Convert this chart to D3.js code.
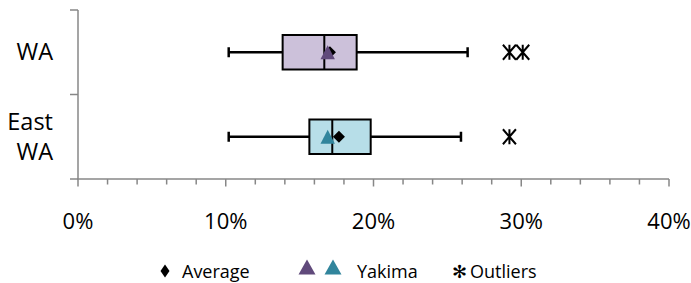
<!DOCTYPE html>
<html>
<head>
<meta charset="utf-8">
<script src="https://cdn.jsdelivr.net/npm/d3@7/dist/d3.min.js"></script>
<style>
  body { margin: 0; background: #fff; }
  svg { display: block; }
  text { font-family: "Open Sans", "Liberation Sans", sans-serif; fill: #000; }
</style>
</head>
<body>
<div class="chart"></div>
<script>
// data (percent)
var categories = ["WA", "East WA"];
var whiskerLow = [10.2, 10.2];
var q1 = [13.85, 15.66];
var median = [16.67, 17.21];
var q3 = [18.86, 19.81];
var whiskerHigh = [26.37, 25.92];
var average = [17.05, 17.66];
var yakima = [16.9, 16.9];
var outliers = [[29.2, 30.1], [29.2]];
var xTicks = [0, 10, 20, 30, 40];
var boxFill = ["#ccc1da", "#b7dee8"];
var yakimaColor = ["#604a7b", "#31859c"];

var width = 691, height = 283;

var svg = d3.select(".chart").append("svg").attr("width", width).attr("height", height);

var x = d3.scaleLinear().domain([0, 40]).range([78, 669]);
var y = d3.scaleBand().domain(categories).range([10, 179]);

// axes
var axisColor = "#878787";

// minor/major ticks on x
var allTicks = d3.range(0, 40.01, 2);
svg.append("g").selectAll("line").data(allTicks).enter().append("line")
    .attr("x1", function (d) { return x(d); })
    .attr("x2", function (d) { return x(d); })
    .attr("y1", 179)
    .attr("y2", function (d) { return d % 10 == 0 ? 186.5 : 184.5; })
    .attr("stroke", axisColor).attr("stroke-width", 1.5);

svg.append("g").selectAll("text").data(xTicks).enter().append("text")
    .attr("x", function (d) { return x(d); })
    .attr("y", 229)
    .attr("text-anchor", "middle")
    .attr("font-size", "22px")
    .text(function (d) { return d + "%"; });

// y ticks at band edges
var yEdges = categories.map(function (c) { return y(c); }).concat([y.range()[1]]);
svg.append("g").selectAll("line").data(yEdges).enter().append("line")
    .attr("x1", 70).attr("x2", 78)
    .attr("y1", function (d) { return d; })
    .attr("y2", function (d) { return d; })
    .attr("stroke", axisColor).attr("stroke-width", 1.5);

svg.append("line").attr("x1", 78).attr("x2", 78).attr("y1", 10).attr("y2", 179)
    .attr("stroke", axisColor).attr("stroke-width", 1.5);
svg.append("line").attr("x1", 77.25).attr("x2", x(40)).attr("y1", 179).attr("y2", 179)
    .attr("stroke", axisColor).attr("stroke-width", 1.5);

// category labels, wrapped on spaces
categories.forEach(function (c) {
    var words = c.split(" ");
    var cy = y(c) + y.bandwidth() / 2;
    var lineH = 30;
    var t = svg.append("text").attr("text-anchor", "end").attr("font-size", "23.5px");
    words.forEach(function (w, i) {
        t.append("tspan").attr("x", 53)
            .attr("y", cy + 8 + (i - (words.length - 1) / 2) * lineH)
            .text(w);
    });
});

// boxes
var boxH = 34.5, capH = 10;
categories.forEach(function (c, i) {
    var cy = y(c) + y.bandwidth() / 2;
    var g = svg.append("g");
    // whiskers
    g.append("line").attr("x1", x(whiskerLow[i])).attr("x2", x(q1[i])).attr("y1", cy).attr("y2", cy)
        .attr("stroke", "#000").attr("stroke-width", 2.3);
    g.append("line").attr("x1", x(q3[i])).attr("x2", x(whiskerHigh[i])).attr("y1", cy).attr("y2", cy)
        .attr("stroke", "#000").attr("stroke-width", 2.3);
    [whiskerLow[i], whiskerHigh[i]].forEach(function (v) {
        g.append("line").attr("x1", x(v)).attr("x2", x(v)).attr("y1", cy - capH / 2).attr("y2", cy + capH / 2)
            .attr("stroke", "#000").attr("stroke-width", 2.5);
    });
    // box
    g.append("rect").attr("x", x(q1[i])).attr("y", cy - boxH / 2)
        .attr("width", x(q3[i]) - x(q1[i])).attr("height", boxH)
        .attr("fill", boxFill[i]).attr("stroke", "#000").attr("stroke-width", 2);
    g.append("line").attr("x1", x(median[i])).attr("x2", x(median[i]))
        .attr("y1", cy - boxH / 2).attr("y2", cy + boxH / 2)
        .attr("stroke", "#000").attr("stroke-width", 2);
    // average diamond
    g.append("path")
        .attr("d", diamondPath(x(average[i]), cy, 6, 6))
        .attr("fill", "#000");
    // yakima triangle
    g.append("path")
        .attr("d", trianglePath(x(yakima[i]), cy, 7.2, 7))
        .attr("fill", yakimaColor[i]);
    // outliers
    outliers[i].forEach(function (v) {
        g.append("path").attr("d", starPath(x(v), cy, 6.5, 7.5))
            .attr("stroke", "#000").attr("stroke-width", 2).attr("fill", "none");
    });
});

function diamondPath(cx, cy, rx, ry) {
    return "M" + cx + "," + (cy - ry) + "L" + (cx + rx) + "," + cy + "L" + cx + "," + (cy + ry) + "L" + (cx - rx) + "," + cy + "Z";
}
function trianglePath(cx, cy, rx, ry) {
    return "M" + cx + "," + (cy - ry) + "L" + (cx + rx) + "," + (cy + ry) + "L" + (cx - rx) + "," + (cy + ry) + "Z";
}
function starPath(cx, cy, rx, ry) {
    return "M" + (cx - rx) + "," + (cy - ry) + "L" + (cx + rx) + "," + (cy + ry) +
        "M" + (cx + rx) + "," + (cy - ry) + "L" + (cx - rx) + "," + (cy + ry) +
        "M" + cx + "," + (cy - ry) + "L" + cx + "," + (cy + ry);
}

// legend
var legend = svg.append("g");
legend.append("path").attr("d", diamondPath(165, 271, 4.5, 6.5)).attr("fill", "#000");
legend.append("text").attr("x", 182).attr("y", 278).attr("font-size", "18px").text("Average");
legend.append("path").attr("d", trianglePath(307, 267, 8.5, 7.5)).attr("fill", yakimaColor[0]);
legend.append("path").attr("d", trianglePath(333, 267, 8.5, 7.5)).attr("fill", yakimaColor[1]);
legend.append("text").attr("x", 357).attr("y", 278).attr("font-size", "18px").text("Yakima");
legend.append("text").attr("x", 452).attr("y", 278).attr("font-size", "18px").text("\u273B");
legend.append("text").attr("x", 470).attr("y", 278).attr("font-size", "18px").text("Outliers");
</script>
</body>
</html>
